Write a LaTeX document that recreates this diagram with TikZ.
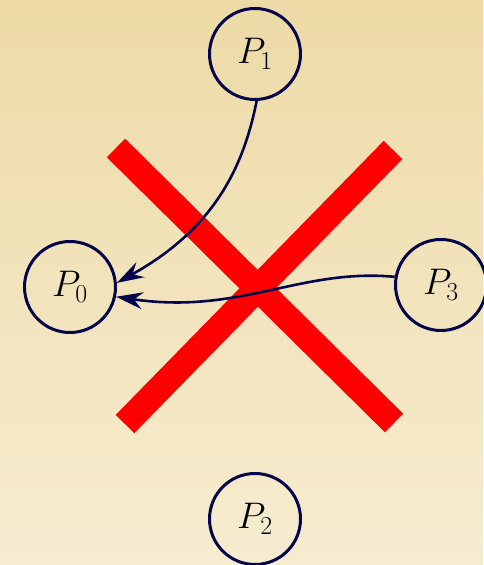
\RequirePackage{fix-cm}
\documentclass[tikz,border=0pt]{standalone}
\usetikzlibrary{arrows.meta}
\definecolor{bgtop}{RGB}{237,218,166}
\definecolor{bgbot}{RGB}{246,236,208}
\definecolor{ink}{RGB}{5,5,75}
\tikzset{
  proc/.style={circle, draw=ink, line width=3pt, minimum size=91pt, inner sep=0pt,
    font=\fontsize{37}{42}\selectfont},
  conn/.style={draw=ink, line width=2.6pt, -{Stealth[length=27pt,width=17pt,inset=9pt]}},
  cross/.style={draw=red, line width=26pt}
}
\begin{document}
\begin{tikzpicture}[x=1pt,y=1pt]
\shade[top color=bgtop, bottom color=bgbot] (0,0) rectangle (483,565);
\useasboundingbox (0,0) rectangle (483,565);
\draw[cross] (116,417) -- (394,142);
\draw[cross] (393,415) -- (125,141);
\node[proc] (P1) at (255,511) {$P_1$};
\node[proc] (P0) at (70,278) {$P_0$};
\node[proc] (P3) at (441,280) {$P_3$};
\node[proc] (P2) at (255,46) {$P_2$};
\draw[conn] (P1.-88) .. controls (243,395) and (212,335) .. (P0.5);
\draw[conn] (P3.170) .. controls (300,297) and (240,250) .. (P0.-12);
\end{tikzpicture}
\end{document}
